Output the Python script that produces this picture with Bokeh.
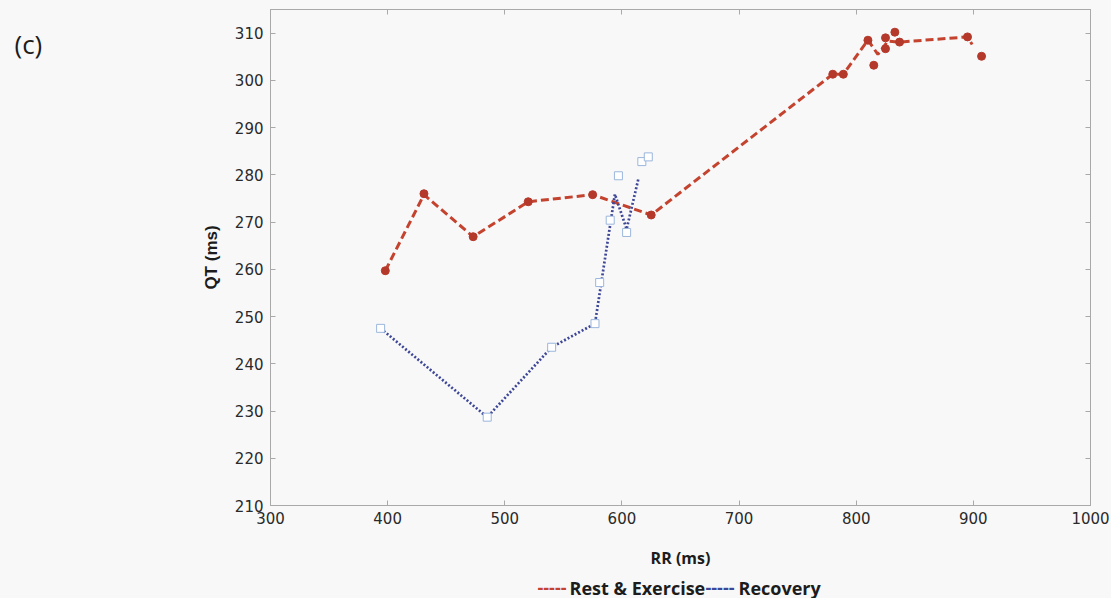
from bokeh.plotting import figure
from bokeh.layouts import column, row
from bokeh.models import (Range1d, FixedTicker, LinearAxis,
                          CustomJSTickFormatter)
from bokeh.core.properties import value
from bokeh.embed import file_html
from bokeh.resources import INLINE

# Rest & Exercise beats (RR, QT) in ms
rest_rr = [398, 431, 473, 520, 575, 625, 780, 789, 810, 815, 825, 825, 833, 837, 895, 907]
rest_qt = [259.7, 276.0, 266.9, 274.3, 275.8, 271.5, 301.3, 301.3, 308.5, 303.2,
           306.7, 309.0, 310.2, 308.1, 309.2, 305.1]

# dashed trend path through the rest & exercise beats
rest_line_rr = [398, 431, 473, 520, 575, 625, 780, 789, 810, 818.5, 827, 837, 895, 899]
rest_line_qt = [259.7, 275.8, 266.9, 274.3, 275.8, 271.5, 301.3, 301.3, 308.5, 305.5,
                308.3, 308.1, 309.2, 307.6]

# Recovery beats
rec_rr = [394, 485, 540, 577, 581, 590, 597, 604, 617, 622.5]
rec_qt = [247.5, 228.7, 243.5, 248.5, 257.2, 270.4, 279.8, 267.8, 282.8, 283.8]

# dotted trend path through the recovery beats
rec_line_rr = [394, 485, 540, 577, 594, 604, 614]
rec_line_qt = [247.5, 228.7, 243.5, 248.5, 275.9, 268.5, 279.1]

x_ticks = [300, 400, 500, 600, 700, 800, 900, 1000]
y_ticks = [210, 220, 230, 240, 250, 260, 270, 280, 290, 300, 310]

legend_texts = ["-----", "Rest & Exercise", "-----", "Recovery"]
panel_tag = "(c)"

BG = "#f8f8f9"
FRAME = "#a9a9a9"
INK = "#1c1c1c"
RED = "#c4432f"
RED_DOT = "#b5392b"
BLUE = "#3d4796"
SQ = "#9bb6dc"

W, H = 1111, 598
SIDE_W = 194          # blank column on the left holding the panel tag
LEGEND_H = 24         # strip under the chart holding the legend text
MAIN_W, MAIN_H = W - SIDE_W, H - LEGEND_H
X0, X1, Y0, Y1 = 300, 1000, 210, 315


def blank(width, height, xr, yr):
    f = figure(width=width, height=height, output_backend="svg",
               toolbar_location=None, x_range=Range1d(*xr), y_range=Range1d(*yr),
               x_axis_type=None, y_axis_type=None,
               min_border=0, background_fill_color=BG, border_fill_color=BG)
    f.grid.visible = False
    f.outline_line_color = None
    return f


p = figure(width=MAIN_W, height=MAIN_H, output_backend="svg", toolbar_location=None,
           x_range=Range1d(X0, X1), y_range=Range1d(Y0, Y1),
           x_axis_type=None, y_axis_type=None,
           min_border_left=76, min_border_right=21,
           min_border_top=9, min_border_bottom=69,
           background_fill_color=BG, border_fill_color=BG)
p.grid.visible = False
p.outline_line_color = FRAME
p.outline_line_width = 1


def style_axis(ax, labelled=True):
    ax.axis_line_color = FRAME
    ax.major_tick_line_color = FRAME
    ax.major_tick_in = 5
    ax.major_tick_out = 0
    ax.minor_tick_line_color = None
    if labelled:
        ax.major_label_text_font = "DejaVu Sans"
        ax.major_label_text_font_size = "15px"
        ax.major_label_text_color = "#2a2a2a"
    else:
        ax.formatter = CustomJSTickFormatter(code="return ''")
        ax.major_label_text_font_size = "1px"
        ax.major_label_standoff = 0


xb = LinearAxis(ticker=FixedTicker(ticks=x_ticks), axis_label="RR (ms)")
style_axis(xb)
xb.major_label_standoff = 6
xb.axis_label_standoff = 20
xb.axis_label_text_font = "Open Sans"
xb.axis_label_text_font_style = "bold"
xb.axis_label_text_font_size = "16px"
xb.axis_label_text_color = INK
p.add_layout(xb, "below")

yl = LinearAxis(ticker=FixedTicker(ticks=y_ticks), axis_label="QT (ms)")
style_axis(yl)
yl.major_label_standoff = 7
yl.axis_label_standoff = 11
yl.axis_label_text_font = "Liberation Sans"
yl.axis_label_text_font_style = "bold"
yl.axis_label_text_font_size = "17px"
yl.axis_label_text_color = INK
p.add_layout(yl, "left")

xt = LinearAxis(ticker=FixedTicker(ticks=x_ticks))
style_axis(xt, labelled=False)
p.add_layout(xt, "above")

yr = LinearAxis(ticker=FixedTicker(ticks=y_ticks))
style_axis(yr, labelled=False)
p.add_layout(yr, "right")

# series
p.line(rest_line_rr, rest_line_qt, line_color=RED, line_width=3, line_dash="8 4")
p.scatter(rest_rr, rest_qt, marker="circle", size=8, fill_color=RED_DOT,
          line_color=RED_DOT)

p.line(rec_line_rr, rec_line_qt, line_color=BLUE, line_width=2.7, line_dash="2 2")
p.scatter(rec_rr, rec_qt, marker="square", size=8, fill_color="white",
          line_color=SQ, line_width=1)

# left column with the panel tag (pixel coordinates, y down)
side = blank(SIDE_W, MAIN_H, (0, SIDE_W), (MAIN_H, 0))
side.text(x=[14], y=[40], text=[panel_tag], text_font=value("Open Sans"),
          text_font_size="26px", text_color=INK,
          text_baseline="middle", text_align="left")

# legend strip (pixel coordinates across the full width)
strip = blank(W, LEGEND_H, (0, W), (LEGEND_H, 0))
legend_x = [537, 569, 705, 738]
legend_colors = [RED, INK, BLUE, INK]
strip.text(x=legend_x, y=[13] * 4, text=legend_texts,
           text_font=value("Open Sans"), text_font_style="bold",
           text_font_size="18px", text_color=legend_colors,
           text_baseline="middle", text_align="left")

layout = column(row(side, p, spacing=0), strip, spacing=0)
layout.background = BG

open("out.html", "w").write(file_html(layout, INLINE))
